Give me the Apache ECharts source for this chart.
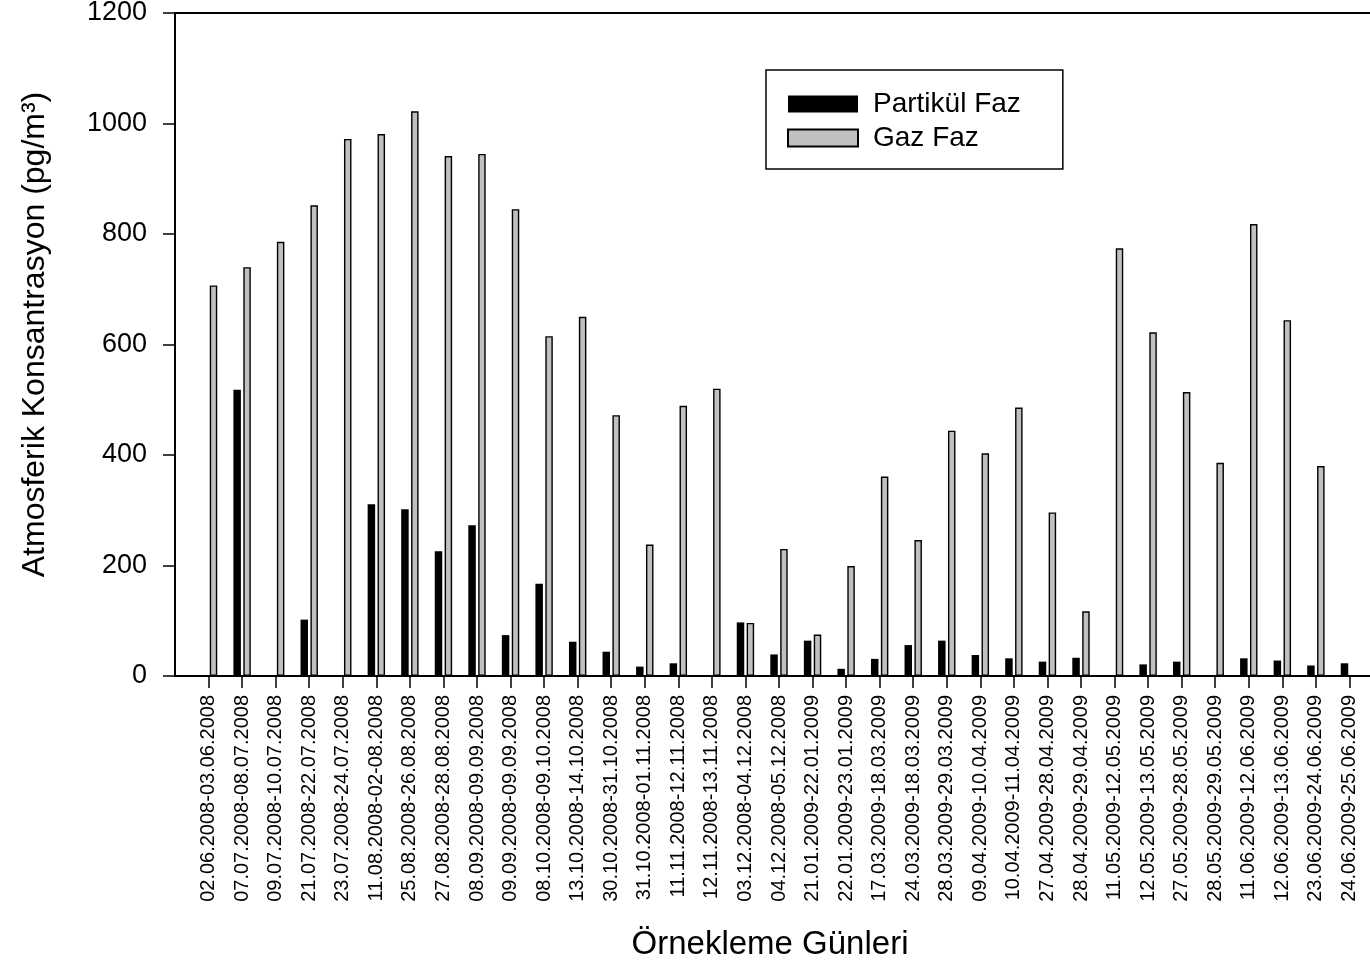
<!DOCTYPE html>
<html>
<head>
<meta charset="utf-8">
<script src="https://cdn.jsdelivr.net/npm/echarts@6/dist/echarts.min.js"></script>
<style>
html,body{margin:0;padding:0;background:#fff;}
#chart{width:1370px;height:968px;}
</style>
</head>
<body>
<div id="chart"></div>
<script>
const categories = [
  '02.06.2008-03.06.2008','07.07.2008-08.07.2008','09.07.2008-10.07.2008','21.07.2008-22.07.2008',
  '23.07.2008-24.07.2008','11.08.2008-02-08.2008','25.08.2008-26.08.2008','27.08.2008-28.08.2008',
  '08.09.2008-09.09.2008','09.09.2008-09.09.2008','08.10.2008-09.10.2008','13.10.2008-14.10.2008',
  '30.10.2008-31.10.2008','31.10.2008-01.11.2008','11.11.2008-12.11.2008','12.11.2008-13.11.2008',
  '03.12.2008-04.12.2008','04.12.2008-05.12.2008','21.01.2009-22.01.2009','22.01.2009-23.01.2009',
  '17.03.2009-18.03.2009','24.03.2009-18.03.2009','28.03.2009-29.03.2009','09.04.2009-10.04.2009',
  '10.04.2009-11.04.2009','27.04.2009-28.04.2009','28.04.2009-29.04.2009','11.05.2009-12.05.2009',
  '12.05.2009-13.05.2009','27.05.2009-28.05.2009','28.05.2009-29.05.2009','11.06.2009-12.06.2009',
  '12.06.2009-13.06.2009','23.06.2009-24.06.2009','24.06.2009-25.06.2009'
];
const partikulFaz = [
  null, 518, null, 102, null, 311, 302, 226, 273, 74, 167, 62, 44, 17, 23, null, 97, 39,
  64, 13, 31, 56, 64, 38, 32, 26, 33, null, 21, 26, null, 32, 28, 19, 23
];
const gazFaz = [
  707, 740, 786, 852, 972, 981, 1022, 941, 945, 845, 615, 650, 472, 238, 489, 520, 96, 230,
  75, 199, 361, 246, 444, 403, 486, 296, 117, 774, 622, 514, 386, 818, 644, 380, null
];
const yTicks = { min: 0, max: 1200, interval: 200 };

const axisCats = [''].concat(categories, ['']);
const padData = arr => [null].concat(arr, [null]);
const FONT = '"Liberation Sans", Arial, sans-serif';
const lastIdx = axisCats.length - 1;

const chart = echarts.init(document.getElementById('chart'), null, { renderer: 'canvas' });
chart.setOption({
  animation: false,
  backgroundColor: '#ffffff',
  textStyle: { fontFamily: FONT, color: '#000' },
  grid: { left: 175, top: 13, width: 1208, height: 663, containLabel: false, outerBoundsMode: 'none' },
  legend: {
    orient: 'vertical',
    left: 766, top: 70,
    padding: [20, 42, 17, 21],
    itemGap: 6,
    itemWidth: 70, itemHeight: 17,
    borderColor: '#000', borderWidth: 1.5,
    backgroundColor: '#fff',
    icon: 'rect',
    textStyle: { fontFamily: FONT, fontSize: 28, color: '#000', padding: [0, 0, 0, 10] },
    data: ['Partikül Faz', 'Gaz Faz']
  },
  xAxis: [{
    type: 'category',
    data: axisCats,
    boundaryGap: false,
    name: 'Örnekleme Günleri',
    nameLocation: 'middle',
    nameGap: 252,
    nameTextStyle: { fontFamily: FONT, fontSize: 33, color: '#000', padding: [0, 18, 0, 0] },
    axisLine: { show: true, lineStyle: { color: '#000', width: 2 } },
    axisTick: { show: true, length: 12, inside: false, alignWithLabel: true,
      interval: (i) => i > 0 && i < lastIdx,
      lineStyle: { color: '#000', width: 1.5 } },
    axisLabel: { interval: 0, rotate: 90, margin: 19, fontFamily: FONT, fontSize: 20, color: '#000' },
    splitLine: { show: false }
  }, {
    type: 'category',
    position: 'top',
    data: axisCats,
    boundaryGap: false,
    axisLine: { show: true, lineStyle: { color: '#000', width: 2 } },
    axisTick: { show: false },
    axisLabel: { show: false },
    splitLine: { show: false }
  }],
  yAxis: {
    type: 'value',
    min: yTicks.min, max: yTicks.max, interval: yTicks.interval,
    name: 'Atmosferik Konsantrasyon (pg/m³)',
    nameLocation: 'middle',
    nameGap: 124,
    nameRotate: 90,
    nameTextStyle: { fontFamily: FONT, fontSize: 32, color: '#000', padding: [0, 0, 0, 20] },
    axisLine: { show: true, lineStyle: { color: '#000', width: 2 } },
    axisTick: { show: true, length: 12, inside: false, lineStyle: { color: '#000', width: 1.5 } },
    axisLabel: { margin: 28, fontFamily: FONT, fontSize: 27, color: '#000', formatter: v => String(v) },
    splitLine: { show: false }
  },
  series: [{
    name: 'Partikül Faz',
    type: 'bar',
    data: padData(partikulFaz),
    barWidth: 7.5,
    barGap: '32%',
    itemStyle: { color: '#000000', borderColor: '#000000', borderWidth: 0 }
  }, {
    name: 'Gaz Faz',
    type: 'bar',
    data: padData(gazFaz),
    barWidth: 7.5,
    barGap: '32%',
    itemStyle: { color: '#c0c0c0', borderColor: '#000000', borderWidth: 1.4 }
  }]
});
</script>
</body>
</html>
